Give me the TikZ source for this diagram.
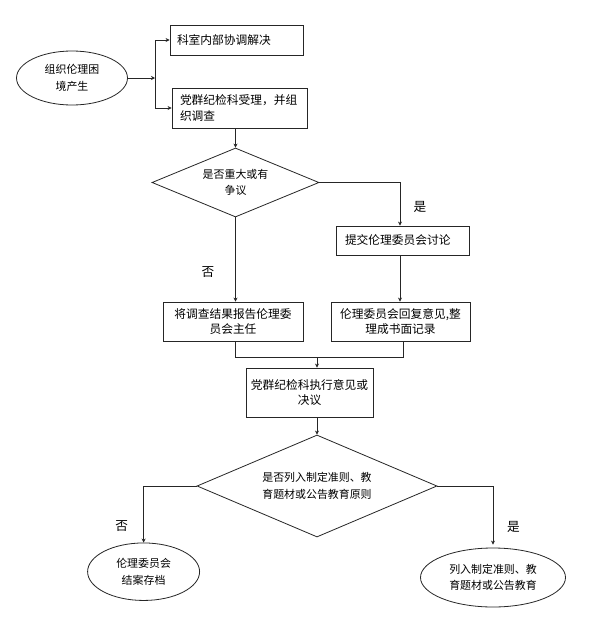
\documentclass[tikz,border=0pt]{standalone}
\usepackage{fontspec}
\setmainfont{Noto Sans CJK SC}
\usetikzlibrary{shapes.geometric,arrows.meta}
\newlength\pu
\setlength\pu{0.75pt}
\begin{document}
\begin{tikzpicture}[x=0.75pt,y=-0.75pt,
  ln/.style={draw=black!85,line width=0.6pt},
  arr/.style={ln,-{Stealth[length=3pt,width=3pt]}},
  box/.style={ln,rectangle,inner sep=0pt,font=\fontsize{8.8}{11.5}\selectfont},
  dia/.style={ln,diamond,inner sep=0pt,align=center,font=\fontsize{8.2}{12.5}\selectfont},
  ell/.style={ln,ellipse,inner sep=0pt,align=center,font=\fontsize{8.2}{12.5}\selectfont},
  lab/.style={inner sep=0pt,font=\fontsize{9.5}{11}\selectfont}]
\fill[white] (0,0) rectangle (616,621);
\useasboundingbox (0,0) rectangle (616,621);

% nodes
\node[ell,minimum width=111\pu,minimum height=54\pu] (e1) at (72,78) {组织伦理困\\境产生};
\node[box,minimum width=133\pu,minimum height=30\pu,text width=119\pu,align=left] (b1) at (236.5,40) {科室内部协调解决};
\node[box,minimum width=135\pu,minimum height=40\pu,text width=119\pu,align=left] (b2) at (239.5,108) {党群纪检科受理，并组\\织调查};
\node[dia,minimum width=167\pu,minimum height=69\pu,aspect=2.42] (d1) at (235.5,182.5) {是否重大或有\\争议};
\node[box,minimum width=133\pu,minimum height=29\pu,text width=116\pu,align=left] (b3) at (403,240.5) {提交伦理委员会讨论};
\node[box,minimum width=140\pu,minimum height=39\pu,text width=130\pu,align=center] (b4) at (233,321.5) {将调查结果报告伦理委\\员会主任};
\node[box,minimum width=139\pu,minimum height=39\pu,text width=130\pu,align=center] (b5) at (400.5,321.5) {伦理委员会回复意见,整\\理成书面记录};
\node[box,minimum width=127\pu,minimum height=49\pu,text width=122\pu,align=center] (b6) at (309.5,392.5) {党群纪检科执行意见或\\决议};
\node[dia,minimum width=240\pu,minimum height=102\pu,aspect=2.35] (d2) at (317,486) {是否列入制定准则、教\\育题材或公告教育原则};
\node[ell,minimum width=112\pu,minimum height=57.5\pu] (e2) at (143.6,571.7) {伦理委员会\\结案存档};
\node[ell,minimum width=145\pu,minimum height=59\pu] (e3) at (493,577.5) {列入制定准则、教\\育题材或公告教育};

% labels
\node[lab] (l1) at (420,207) {是};
\node[lab] (l2) at (208,272) {否};
\node[lab] (l3) at (121.7,526) {否};
\node[lab] (l4) at (513.5,526.7) {是};

% junction coordinates
\coordinate (j1) at (155,78);
\coordinate (jt) at (155,40);
\coordinate (jb) at (155,108);
\coordinate (c1) at (400,0);
\coordinate (c2) at (403,0);
\coordinate (m) at (317,357);

% connectors
\draw[arr] (e1.east) -- (j1);
\draw[ln] (jt) -- (jb);
\draw[arr] (jt) -- (b1.west);
\draw[arr] (jb) -- (b2.west);
\draw[arr] (b2.south -| d1.north) -- (d1.north);
\draw[arr] (d1.east) -| (c1 |- b3.north);
\draw[arr] (d1.south) -- (d1.south |- b4.north);
\draw[arr] (b3.south -| c1) -- (b5.north -| c1);
\draw[ln] (b4.south -| d1.south) |- (m);
\draw[ln] (b5.south -| c2) |- (m);
\draw[arr] (m) -- (m |- b6.north);
\draw[arr] (b6.south -| d2.north) -- (d2.north);
\draw[arr] (d2.west) -| (e2.north);
\draw[arr,shorten >=2.25pt] (d2.east) -| (e3.north);
\end{tikzpicture}
\end{document}
